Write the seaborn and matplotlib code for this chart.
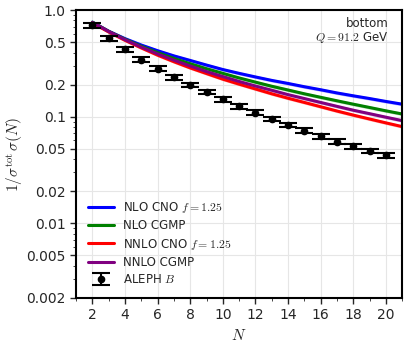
import numpy as np
import pandas as pd
import matplotlib
matplotlib.use("Agg")
import matplotlib.pyplot as plt
import seaborn as sns

# moments N
N = [2, 3, 4, 5, 6, 7, 8, 9, 10, 11, 12, 13, 14, 15, 16, 17, 18, 19, 20, 21]

# theory curves
nlo_cno = [0.771, 0.634, 0.540, 0.470, 0.416, 0.372, 0.337, 0.305, 0.277, 0.255,
           0.236, 0.219, 0.205, 0.191, 0.179, 0.167, 0.157, 0.148, 0.139, 0.131]
nlo_cgmp = [0.771, 0.632, 0.533, 0.458, 0.399, 0.352, 0.314, 0.282, 0.255, 0.231,
            0.211, 0.193, 0.178, 0.164, 0.152, 0.141, 0.131, 0.122, 0.1135, 0.106]
nnlo_cno = [0.760, 0.624, 0.521, 0.442, 0.378, 0.328, 0.287, 0.254, 0.225, 0.202,
            0.182, 0.164, 0.149, 0.136, 0.124, 0.113, 0.1035, 0.0951, 0.0875, 0.0807]
nnlo_cgmp = [0.766, 0.630, 0.528, 0.450, 0.388, 0.339, 0.299, 0.265, 0.238, 0.214,
             0.194, 0.177, 0.161, 0.148, 0.136, 0.125, 0.115, 0.1067, 0.0989, 0.0918]

# ALEPH data
N_data = [2, 3, 4, 5, 6, 7, 8, 9, 10, 11, 12, 13, 14, 15, 16, 17, 18, 19, 20]
aleph = [0.723, 0.542, 0.428, 0.344, 0.282, 0.235, 0.199, 0.171, 0.146, 0.125,
         0.109, 0.0955, 0.0834, 0.0738, 0.0653, 0.0582, 0.0527, 0.0476, 0.0434]
aleph_err = [0.05 * v for v in aleph]

curves = [("NLO CNO $f = 1.25$", nlo_cno, "blue"),
          ("NLO CGMP", nlo_cgmp, "green"),
          ("NNLO CNO $f = 1.25$", nnlo_cno, "red"),
          ("NNLO CGMP", nnlo_cgmp, "purple")]

sns.set_style("ticks")
plt.rcParams['mathtext.fontset'] = 'cm'
plt.rcParams['font.family'] = ['DejaVu Sans']

fig = plt.figure(figsize=(4.07, 3.49), dpi=100)
ax = fig.add_axes([0.187, 0.147, 0.801, 0.824])

for label, vals, col in curves:
    df = pd.DataFrame({"N": N, "val": vals})
    lo = [v * 0.965 for v in vals]
    hi = [v * 1.035 for v in vals]
    ax.fill_between(N, lo, hi, color=col, alpha=0.25, lw=0)
    sns.lineplot(data=df, x="N", y="val", color=col, lw=2.2, label=label, ax=ax)

# data points
ax.errorbar(N_data, aleph, yerr=aleph_err, fmt='o', color='black', ms=4.5,
            elinewidth=1.5, capsize=6.5, capthick=1.5, label="ALEPH $B$")

ax.set_yscale('log')
ax.set_ylim(0.002, 1.0)
ax.set_xlim(1, 21)
ax.set_yticks([0.002, 0.005, 0.01, 0.02, 0.05, 0.1, 0.2, 0.5, 1.0])
ax.set_yticklabels(["0.002", "0.005", "0.01", "0.02", "0.05", "0.1", "0.2", "0.5", "1.0"])
ax.set_xticks(range(2, 21, 2))
ax.set_xticks(range(1, 22, 2), minor=True)
ax.tick_params(labelsize=10, width=1, length=4)
ax.tick_params(which='minor', length=2.5)
ax.grid(True, which='major', color='#e6e6e6', lw=0.8)
for s in ax.spines.values():
    s.set_linewidth(1.5)
    s.set_color('black')

ax.set_xlabel("$N$", fontsize=11)
ax.set_ylabel(r"$1/\sigma^{\rm tot}\,\sigma(N)$", fontsize=11, labelpad=1)

ax.text(0.96, 0.975, "bottom", transform=ax.transAxes, ha='right', va='top', fontsize=8.5)
ax.text(0.96, 0.93, "$Q = 91.2$ GeV", transform=ax.transAxes, ha='right', va='top', fontsize=8.5)

ax.legend(loc='lower left', frameon=False, fontsize=8.5, handlelength=2.2,
          borderaxespad=0.6, labelspacing=0.35)

fig.savefig("out.png", dpi=100)
